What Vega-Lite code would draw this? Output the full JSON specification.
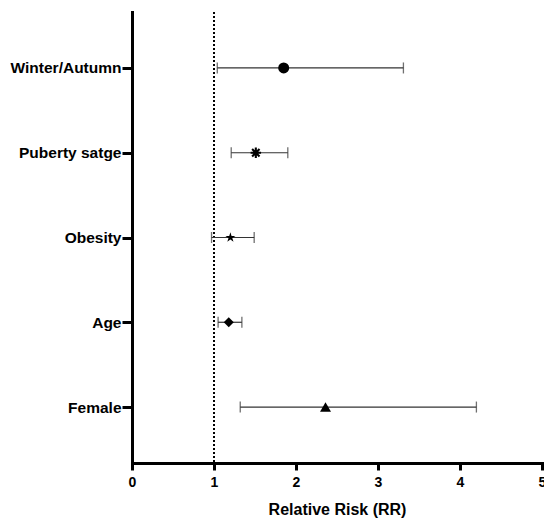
{
  "$schema": "https://vega.github.io/schema/vega-lite/v6.json",
  "width": 410,
  "height": 451,
  "autosize": {"type": "none"},
  "padding": {"left": 132, "top": 12, "right": 2, "bottom": 56},
  "background": "white",
  "config": {"view": {"stroke": null}, "font": "Liberation Sans"},
  "data": {
    "values": [
      {"factor": "Winter/Autumn", "rr": 1.85, "low": 1.04, "high": 3.31},
      {"factor": "Puberty satge", "rr": 1.51, "low": 1.21, "high": 1.90},
      {"factor": "Obesity", "rr": 1.20, "low": 0.97, "high": 1.49},
      {"factor": "Age", "rr": 1.18, "low": 1.05, "high": 1.34},
      {"factor": "Female", "rr": 2.36, "low": 1.32, "high": 4.20}
    ]
  },
  "layer": [
    {
      "mark": {"type": "rule", "strokeDash": [2, 2], "strokeWidth": 1.5, "color": "black"},
      "encoding": {
        "x": {"datum": 1, "type": "quantitative", "title": "Relative Risk (RR)",
          "scale": {"domain": [0, 5], "nice": false, "zero": true},
          "axis": {"values": [0, 1, 2, 3, 4, 5], "format": "d", "grid": false, "domainColor": "black", "domainWidth": 3, "domainCap": "square",
            "tickColor": "black", "tickWidth": 3, "tickSize": 7, "labelFontSize": 14, "labelFontWeight": "bold", "labelColor": "black",
            "labelPadding": 5, "labelFlush": false, "titleFontSize": 16, "titleFontWeight": "bold", "titleColor": "black", "titlePadding": 12}}
      }
    },
    {
      "mark": {"type": "rule", "strokeWidth": 1.2, "color": "#333"},
      "encoding": {
        "x": {"field": "low", "type": "quantitative", "title": "Relative Risk (RR)"},
        "x2": {"field": "high"},
        "y": {"field": "factor", "type": "nominal", "sort": null, "title": null,
          "scale": {"type": "point", "padding": 0.66},
          "axis": {"grid": false, "domainColor": "black", "domainWidth": 3, "domainCap": "square", "tickColor": "black", "tickWidth": 3,
            "tickSize": 10, "labelFontSize": 15.5, "labelFontWeight": "bold", "labelColor": "black", "labelPadding": 1}}
      }
    },
    {
      "mark": {"type": "tick", "orient": "vertical", "size": 11, "thickness": 1.3, "color": "#333"},
      "encoding": {
        "x": {"field": "low", "type": "quantitative", "title": "Relative Risk (RR)"},
        "y": {"field": "factor", "type": "nominal", "sort": null, "title": null}
      }
    },
    {
      "mark": {"type": "tick", "orient": "vertical", "size": 11, "thickness": 1.3, "color": "#333"},
      "encoding": {
        "x": {"field": "high", "type": "quantitative", "title": "Relative Risk (RR)"},
        "y": {"field": "factor", "type": "nominal", "sort": null, "title": null}
      }
    },
    {
      "mark": {"type": "point", "filled": true, "opacity": 1, "color": "black"},
      "encoding": {
        "x": {"field": "rr", "type": "quantitative", "title": "Relative Risk (RR)"},
        "y": {"field": "factor", "type": "nominal", "sort": null, "title": null},
        "shape": {"field": "factor", "legend": null,
          "scale": {"domain": ["Winter/Autumn", "Puberty satge", "Obesity", "Age", "Female"],
            "range": ["circle",
              "M-1,-0.2L1,-0.2L1,0.2L-1,0.2ZM-0.2,-1L0.2,-1L0.2,1L-0.2,1ZM-0.566,-0.848L0.848,0.566L0.566,0.848L-0.848,-0.566ZM-0.848,0.566L0.566,-0.848L0.848,-0.566L-0.566,0.848Z",
              "M0,-1L0.223,-0.307L0.951,-0.309L0.361,0.117L0.588,0.809L0,0.38L-0.588,0.809L-0.361,0.117L-0.951,-0.309L-0.223,-0.307Z",
              "diamond",
              "triangle-up"]}},
        "size": {"field": "factor", "legend": null,
          "scale": {"type": "ordinal", "domain": ["Winter/Autumn", "Puberty satge", "Obesity", "Age", "Female"], "range": [121, 110, 110, 100, 120]}}
      }
    }
  ]
}
